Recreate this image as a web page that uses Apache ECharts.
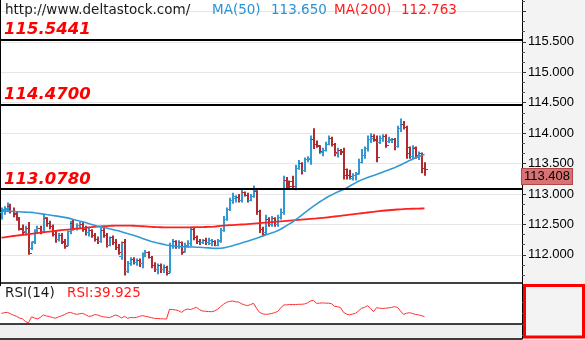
<!DOCTYPE html>
<html><head><meta charset="utf-8">
<script src="https://cdn.jsdelivr.net/npm/echarts@6/dist/echarts.min.js"></script>
<style>html,body{margin:0;padding:0;background:#f3f3f3}#c{width:585px;height:340px}</style>
</head><body><div id="c"></div>
<script>
// ---- data ----
const opens = [112.70,112.72,112.75,112.80,112.72,112.68,112.60,112.42,112.38,112.44,
112.10,112.22,112.40,112.44,112.38,112.60,112.52,112.46,112.34,112.26,
112.32,112.20,112.16,112.38,112.52,112.44,112.48,112.50,112.42,112.36,
112.40,112.32,112.26,112.22,112.40,112.32,112.16,112.28,112.20,112.12,
111.98,112.20,111.72,111.86,111.92,111.88,111.90,111.86,112.00,112.04,
111.96,111.82,111.76,111.82,111.76,111.80,111.72,112.16,112.22,112.14,
112.20,112.06,112.16,112.18,112.42,112.28,112.22,112.20,112.24,112.20,
112.18,112.22,112.16,112.24,112.40,112.58,112.74,112.90,112.92,112.94,
112.90,113.02,112.98,112.90,112.96,113.04,112.72,112.42,112.36,112.58,
112.50,112.60,112.50,112.62,112.70,113.22,113.20,113.20,113.08,113.42,
113.50,113.38,113.56,113.56,113.90,113.82,113.78,113.68,113.72,113.82,
113.92,113.82,113.66,113.72,113.70,113.40,113.30,113.26,113.30,113.34,
113.52,113.64,113.74,113.90,113.94,113.90,113.84,113.92,113.94,113.86,
113.88,113.90,113.78,114.08,114.14,114.10,113.76,113.62,113.74,113.60,
113.66,113.42];
const highs = [112.78,112.80,112.86,112.84,112.78,112.72,112.62,112.50,112.48,112.54,
112.22,112.42,112.48,112.48,112.66,112.62,112.56,112.50,112.40,112.36,
112.36,112.26,112.40,112.56,112.58,112.52,112.54,112.54,112.48,112.44,
112.42,112.36,112.30,112.44,112.44,112.36,112.30,112.32,112.26,112.18,
112.22,112.26,111.90,111.96,111.96,111.94,111.94,112.04,112.08,112.06,
111.98,111.88,111.86,111.86,111.84,111.82,112.20,112.26,112.24,112.24,
112.22,112.20,112.24,112.46,112.44,112.32,112.26,112.26,112.28,112.28,
112.26,112.24,112.26,112.44,112.64,112.78,112.94,113.02,112.98,113.00,
113.08,113.04,113.02,113.00,113.14,113.06,112.74,112.46,112.66,112.62,
112.64,112.62,112.66,112.76,113.30,113.28,113.22,113.30,113.48,113.56,
113.52,113.60,113.62,113.96,114.08,113.88,113.80,113.76,113.86,113.96,
113.94,113.84,113.76,113.74,113.76,113.42,113.40,113.34,113.36,113.58,
113.74,113.78,113.96,114.00,113.98,113.96,113.96,113.98,113.98,113.94,
113.92,113.92,114.12,114.24,114.20,114.12,113.78,113.80,113.78,113.70,
113.68,113.52];
const lows = [112.58,112.66,112.70,112.68,112.62,112.56,112.40,112.32,112.32,112.00,
112.08,112.18,112.36,112.34,112.36,112.46,112.42,112.30,112.20,112.22,
112.18,112.10,112.14,112.34,112.40,112.40,112.42,112.38,112.32,112.30,
112.28,112.22,112.18,112.20,112.28,112.12,112.14,112.16,112.08,112.00,
111.92,111.66,111.70,111.82,111.84,111.82,111.80,111.78,111.96,111.94,
111.78,111.72,111.68,111.70,111.70,111.66,111.70,112.10,112.10,112.10,
112.00,112.04,112.12,112.14,112.24,112.18,112.16,112.18,112.16,112.16,
112.14,112.14,112.14,112.20,112.38,112.56,112.72,112.84,112.86,112.86,
112.86,112.96,112.86,112.88,112.94,112.66,112.36,112.30,112.34,112.46,
112.46,112.46,112.46,112.58,112.66,113.10,113.08,113.10,113.06,113.40,
113.32,113.36,113.52,113.48,113.74,113.76,113.66,113.62,113.70,113.80,
113.78,113.62,113.60,113.64,113.24,113.24,113.24,113.22,113.22,113.32,
113.50,113.58,113.70,113.84,113.86,113.52,113.82,113.86,113.76,113.84,
113.84,113.72,113.76,114.02,114.06,113.58,113.58,113.58,113.58,113.56,
113.34,113.30];
const closes = [112.74,112.76,112.82,112.72,112.66,112.62,112.44,112.36,112.44,112.02,
112.20,112.40,112.44,112.38,112.62,112.52,112.46,112.34,112.26,112.32,
112.22,112.14,112.38,112.52,112.44,112.48,112.50,112.42,112.36,112.40,
112.32,112.26,112.22,112.40,112.32,112.16,112.28,112.20,112.12,112.04,
112.20,111.72,111.86,111.92,111.88,111.90,111.86,112.00,112.04,111.96,
111.82,111.76,111.82,111.76,111.80,111.70,112.16,112.22,112.14,112.20,
112.04,112.16,112.18,112.42,112.28,112.22,112.20,112.24,112.20,112.24,
112.22,112.16,112.22,112.40,112.58,112.74,112.90,112.96,112.94,112.90,
113.02,112.98,112.90,112.96,113.06,112.72,112.42,112.34,112.58,112.50,
112.60,112.50,112.62,112.70,113.22,113.20,113.12,113.12,113.42,113.50,
113.38,113.56,113.58,113.90,113.82,113.80,113.70,113.72,113.82,113.92,
113.82,113.68,113.72,113.68,113.30,113.30,113.28,113.30,113.32,113.52,
113.64,113.74,113.90,113.92,113.88,113.60,113.92,113.94,113.80,113.90,
113.90,113.78,114.08,114.14,114.10,113.66,113.62,113.76,113.64,113.66,
113.42,113.408];
const ma50 = [112.725,112.722,112.719,112.716,112.713,112.710,112.708,112.705,112.702,112.700,
112.698,112.693,112.685,112.677,112.670,112.662,112.655,112.648,112.640,112.632,
112.624,112.616,112.608,112.595,112.582,112.568,112.555,112.545,112.530,112.515,
112.500,112.485,112.470,112.460,112.450,112.440,112.428,112.418,112.405,112.395,
112.380,112.365,112.350,112.336,112.322,112.305,112.288,112.270,112.252,112.235,
112.220,112.208,112.196,112.185,112.172,112.163,112.155,112.148,112.142,112.138,
112.135,112.133,112.132,112.130,112.128,112.126,112.124,112.122,112.118,112.114,
112.110,112.107,112.106,112.108,112.115,112.125,112.137,112.150,112.165,112.180,
112.195,112.210,112.225,112.240,112.255,112.272,112.290,112.308,112.326,112.343,
112.360,112.377,112.395,112.420,112.450,112.480,112.510,112.540,112.575,112.612,
112.650,112.688,112.726,112.765,112.800,112.835,112.868,112.900,112.930,112.958,
112.985,113.010,113.033,113.055,113.075,113.100,113.128,113.155,113.183,113.210,
113.232,113.252,113.270,113.287,113.304,113.322,113.340,113.358,113.376,113.395,
113.414,113.432,113.455,113.478,113.502,113.526,113.550,113.572,113.594,113.614,
113.632,113.650];
const ma200 = [112.282,112.289,112.296,112.303,112.310,112.316,112.322,112.328,112.334,112.340,
112.346,112.352,112.358,112.364,112.370,112.376,112.382,112.388,112.394,112.400,
112.405,112.410,112.415,112.420,112.425,112.430,112.435,112.440,112.445,112.450,
112.455,112.459,112.463,112.467,112.470,112.473,112.476,112.478,112.480,112.481,
112.482,112.482,112.481,112.480,112.478,112.476,112.473,112.470,112.467,112.464,
112.461,112.458,112.456,112.454,112.452,112.451,112.450,112.450,112.450,112.450,
112.450,112.451,112.452,112.453,112.454,112.455,112.456,112.457,112.458,112.459,
112.460,112.465,112.470,112.475,112.479,112.483,112.487,112.490,112.493,112.496,
112.499,112.502,112.506,112.510,112.514,112.518,112.522,112.526,112.530,112.534,
112.538,112.542,112.546,112.550,112.554,112.558,112.562,112.566,112.570,112.574,
112.578,112.582,112.586,112.590,112.594,112.598,112.603,112.608,112.613,112.618,
112.624,112.630,112.636,112.642,112.648,112.654,112.660,112.666,112.672,112.678,
112.684,112.690,112.696,112.702,112.708,112.714,112.720,112.725,112.729,112.733,
112.737,112.741,112.745,112.748,112.751,112.754,112.756,112.758,112.760,112.761,
112.762,112.763];
const rsi = [45.8,47.0,47.6,45.0,42.5,40.5,37.5,36.0,31.0,29.0,
39.5,37.5,35.8,39.0,43.0,41.0,40.0,38.5,37.0,39.5,
41.5,43.5,46.5,47.5,45.5,44.0,45.0,45.8,43.5,40.5,
41.0,43.5,43.0,41.0,39.5,39.0,38.1,40.5,42.9,41.0,
37.5,40.5,37.0,38.5,38.0,38.5,40.5,41.7,40.5,39.5,
38.0,36.9,36.5,36.2,35.9,35.7,53.0,52.5,52.0,50.5,
47.6,51.5,53.6,52.5,54.5,56.6,52.5,50.0,49.5,49.0,
48.8,50.0,53.0,57.7,62.0,65.5,67.0,67.9,66.5,66.0,
63.0,61.0,59.5,61.5,63.7,55.0,47.6,45.0,44.0,44.5,
45.5,47.0,49.0,55.0,60.7,61.0,61.5,61.5,61.5,61.9,
62.0,62.5,64.5,68.0,69.0,63.7,64.0,64.5,64.0,64.0,
63.0,58.5,57.7,56.0,47.6,44.5,43.0,44.5,45.8,50.0,
54.8,56.5,59.5,55.0,48.8,55.9,55.0,54.5,55.0,55.5,
56.5,57.7,56.5,50.0,44.0,46.0,47.0,45.5,44.0,43.0,
41.7,39.925];
const levels = [115.5441, 114.4700, 113.0780];
const priceLabels = [112.0, 112.5, 113.0, 113.5, 114.0, 114.5, 115.0, 115.5];
const rsiTicks = [6, 26, 46, 66];
const rsiFloor = 27;
const slotCount = 174;

// ---- build ----
const cats = Array.from({length: slotCount}, (_, i) => i);
const ohlc = opens.map((o, i) => [i, o, highs[i], lows[i], closes[i]]);
const UP = '#3399d2', DOWN = '#b02a32';
const last = closes.length - 1;

function renderOHLC(params, api) {
  const i = api.value(0);
  const o = api.coord([i, api.value(1)]);
  const h = api.coord([i, api.value(2)]);
  const l = api.coord([i, api.value(3)]);
  const c = api.coord([i, api.value(4)]);
  const x = Math.round(o[0]);
  const yo = Math.floor(o[1]) + 0.5, yc = Math.floor(c[1]) + 0.5;
  const col = api.value(4) >= api.value(1) ? UP : DOWN;
  return {type: 'group', children: [
    {type: 'line', shape: {x1: x, y1: h[1], x2: x, y2: l[1]}, style: {stroke: col, lineWidth: 2}},
    {type: 'line', shape: {x1: x - 3, y1: yo, x2: x, y2: yo}, style: {stroke: col, lineWidth: 1}},
    {type: 'line', shape: {x1: x, y1: yc, x2: x + 3, y2: yc}, style: {stroke: col, lineWidth: 1}}
  ]};
}

const chart = echarts.init(document.getElementById('c'), null, {renderer: 'canvas'});
const txt = (t, left, top, fill) => ({type: 'text', left, top, z: 100,
  style: {text: t, fill, font: '13.5px "DejaVu Sans"'}});

chart.setOption({
  animation: false,
  backgroundColor: '#f3f3f3',
  grid: [
    {left: 0, top: -19.01, width: 522, height: 304.3, show: true, backgroundColor: '#fff', borderWidth: 0, containLabel: false, outerBoundsMode: 'none'},
    {left: 0, top: 283, width: 522, height: 56, show: true, backgroundColor: '#fff', borderWidth: 0, containLabel: false, outerBoundsMode: 'none'}
  ],
  xAxis: [
    {type: 'category', data: cats, gridIndex: 0, boundaryGap: true, show: false},
    {type: 'category', data: cats, gridIndex: 1, boundaryGap: true, show: false}
  ],
  yAxis: [
    {type: 'value', gridIndex: 0, position: 'right', min: 111.5, max: 116.5, interval: 0.5,
      axisLine: {show: true, lineStyle: {color: '#000', width: 1}},
      axisTick: {show: true, length: 4, lineStyle: {color: '#333'}},
      minorTick: {show: true, splitNumber: 3, length: 3, lineStyle: {color: '#555'}},
      axisLabel: {margin: 6, color: '#000', fontFamily: 'Liberation Sans', fontSize: 13,
        formatter: v => priceLabels.some(p => Math.abs(p - v) < 1e-6) ? v.toFixed(3) : ''},
      splitLine: {show: true, showMinLine: false, showMaxLine: false, lineStyle: {color: '#e6e6e6', width: 1}}},
    {type: 'value', gridIndex: 0, position: 'left', min: 111.5, max: 116.5,
      axisLine: {show: true, lineStyle: {color: '#000', width: 2}},
      axisTick: {show: false}, axisLabel: {show: false}, splitLine: {show: false}},
    {type: 'value', gridIndex: 1, position: 'right', min: 0, max: 100,
      axisLine: {show: true, lineStyle: {color: '#000', width: 1}},
      axisTick: {show: true, length: 3, customValues: rsiTicks, lineStyle: {color: '#555'}},
      axisLabel: {show: false}, splitLine: {show: false}}
  ],
  graphic: [
    txt('http://www.deltastock.com/', 5, 3, '#1a1a1a'),
    txt('MA(50)', 212, 3, '#2a92d6'),
    txt(ma50[last].toFixed(3), 271, 3, '#2a92d6'),
    txt('MA(200)', 334, 3, '#ff1a1a'),
    txt(ma200[last].toFixed(3), 401, 3, '#ff1a1a'),
    txt('RSI(14)', 5, 286, '#1a1a1a'),
    txt('RSI:' + rsi[last].toFixed(3), 67, 286, '#ff1a1a'),
    {type: 'rect', z: 100, shape: {x: 524.5, y: 285.5, width: 59, height: 51.5},
      style: {fill: 'none', stroke: '#ff0000', lineWidth: 3}}
  ],
  series: [
    {type: 'custom', xAxisIndex: 0, yAxisIndex: 0, data: ohlc, renderItem: renderOHLC,
      encode: {x: 0, y: [1, 2, 3, 4]}, clip: true, z: 2},
    {type: 'line', xAxisIndex: 0, yAxisIndex: 0, data: ma200, showSymbol: false, symbol: 'none',
      lineStyle: {color: '#ff2020', width: 1.8}, z: 3, silent: true},
    {type: 'line', xAxisIndex: 0, yAxisIndex: 0, data: ma50, showSymbol: false, symbol: 'none',
      lineStyle: {color: '#3399d6', width: 1.6}, z: 4, silent: true,
      markLine: {silent: true, symbol: ['none', 'none'], animation: false,
        data: levels.map(v => ({yAxis: v, lineStyle: {color: '#000', width: 2, type: 'solid'},
          label: {show: true, position: 'insideStartTop', distance: [4, 1],
            formatter: () => v.toFixed(4), color: '#ff0000', fontFamily: 'DejaVu Sans',
            fontWeight: 'bold', fontStyle: 'italic', fontSize: 16.5}}))}},
    {type: 'line', xAxisIndex: 0, yAxisIndex: 0, data: closes.map(() => null), showSymbol: false,
      symbol: 'none', lineStyle: {width: 0}, z: 6, silent: true,
      markLine: {silent: true, symbol: ['none', 'none'], animation: false,
        data: [{yAxis: closes[last], lineStyle: {color: 'rgba(0,0,0,0)', width: 0},
          label: {show: true, position: 'end', distance: 0, formatter: () => closes[last].toFixed(3),
            color: '#000', fontFamily: 'Liberation Sans', fontSize: 13, verticalAlign: 'top',
            backgroundColor: '#d97272', borderColor: '#b04848', borderWidth: 1, padding: [1, 2, 1, 2]}}]}},
    {type: 'line', xAxisIndex: 1, yAxisIndex: 2, data: rsi, showSymbol: false, symbol: 'none',
      lineStyle: {color: '#ff3030', width: 1}, z: 3, silent: true,
      markArea: {silent: true, itemStyle: {color: '#f0f0f0'}, data: [[{yAxis: 0}, {yAxis: rsiFloor}]]},
      markLine: {silent: true, symbol: ['none', 'none'], label: {show: false},
        lineStyle: {color: '#000', width: 1.5, type: 'solid'},
        data: [{yAxis: 100}, {yAxis: rsiFloor}, {yAxis: 0}]}}
  ]
});
</script></body></html>
